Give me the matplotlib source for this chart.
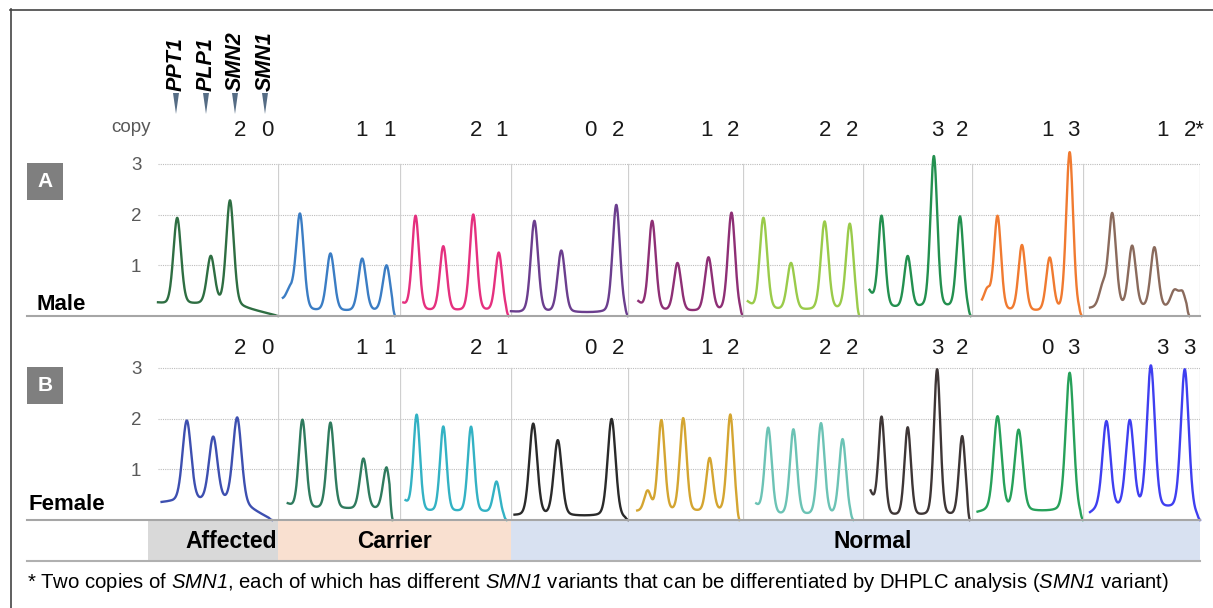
import numpy as np
import matplotlib
matplotlib.use("Agg")
import matplotlib.pyplot as plt
from matplotlib.lines import Line2D
from matplotlib.patches import Rectangle, Polygon

plt.rcParams['font.family'] = ['Liberation Sans', 'DejaVu Sans']
plt.rcParams['mathtext.fontset'] = 'custom'
plt.rcParams['mathtext.it'] = 'Liberation Sans:italic'
plt.rcParams['mathtext.rm'] = 'Liberation Sans:italic'

# ---- data (peak position in panel fraction, height in copies)
genes = ['PPT1', 'PLP1', 'SMN2', 'SMN1']
groups = ['Affected', 'Carrier', 'Normal']

male_copy = [('2', '0'), ('1', '1'), ('2', '1'), ('0', '2'), ('1', '2'),
             ('2', '2'), ('3', '2'), ('1', '3'), ('1', '2*')]
female_copy = [('2', '0'), ('1', '1'), ('2', '1'), ('0', '2'), ('1', '2'),
               ('2', '2'), ('3', '2'), ('0', '3'), ('3', '3')]

male_pos = [[0.16, 0.44, 0.60],
            [0.10, 0.18, 0.43, 0.69, 0.89],
            [0.14, 0.39, 0.66, 0.89],
            [0.20, 0.43, 0.90],
            [0.21, 0.43, 0.70, 0.90],
            [0.17, 0.40, 0.68, 0.89],
            [0.17, 0.41, 0.65, 0.89],
            [0.14, 0.23, 0.45, 0.70, 0.88],
            [0.17, 0.25, 0.42, 0.61, 0.78, 0.85]]
male_height = [[1.93, 1.16, 2.27],
               [0.45, 1.99, 1.22, 1.12, 0.99],
               [1.97, 1.36, 1.99, 1.24],
               [1.87, 1.28, 2.19],
               [1.87, 1.03, 1.14, 2.03],
               [1.93, 1.03, 1.85, 1.81],
               [1.97, 1.16, 3.14, 1.95],
               [0.45, 1.95, 1.38, 1.12, 3.22],
               [0.55, 1.99, 1.36, 1.34, 0.47, 0.45]]
male_base = [0.22, 0.08, 0.08, 0.06, 0.08, 0.10, 0.14, 0.07, 0.14]
male_lead = [0.25, 0.26, 0.22, 0.08, 0.26, 0.26, 0.47, 0.18, 0.14]
male_start = [0.0, 0.04, 0.03, 0.0, 0.09, 0.04, 0.06, 0.09, 0.06]
male_end = [1.0, 0.96, 0.98, 1.0, 1.0, 0.97, 0.99, 0.99, 0.91]

female_pos = [[0.24, 0.46, 0.66],
              [0.20, 0.43, 0.70, 0.89],
              [0.15, 0.39, 0.64, 0.87],
              [0.19, 0.40, 0.86],
              [0.17, 0.29, 0.48, 0.71, 0.89],
              [0.21, 0.42, 0.65, 0.83],
              [0.17, 0.41, 0.68, 0.91],
              [0.23, 0.42, 0.88],
              [0.20, 0.40, 0.58, 0.87]]
female_height = [[1.95, 1.62, 2.01],
                 [1.97, 1.91, 1.20, 1.03],
                 [2.07, 1.83, 1.83, 0.75],
                 [1.89, 1.56, 1.99],
                 [0.55, 1.95, 1.99, 1.20, 2.07],
                 [1.81, 1.77, 1.89, 1.58],
                 [2.03, 1.81, 2.96, 1.64],
                 [2.03, 1.76, 2.90],
                 [1.93, 1.93, 3.02, 2.96]]
female_base = [0.35, 0.20, 0.14, 0.07, 0.14, 0.07, 0.06, 0.16, 0.20]
female_lead = [0.34, 0.30, 0.34, 0.08, 0.16, 0.28, 0.53, 0.14, 0.12]
female_start = [0.03, 0.08, 0.05, 0.03, 0.08, 0.11, 0.07, 0.05, 0.06]
female_end = [0.95, 0.94, 0.96, 1.0, 0.97, 0.92, 0.98, 1.0, 1.0]

# ---- styles / layout
male_colors = ['#2e6e42', '#3b7dc4', '#e5307f', '#6b3e8e', '#8e2f75',
               '#9acb4a', '#23904f', '#f07a30', '#8a6a5c']
female_colors = ['#3d4fb0', '#2f7b5e', '#33b2c4', '#2a2a2a', '#d4a531',
                 '#6cc3b5', '#3e3636', '#27a15a', '#3f3ff0']
male_fwhm = [0.075] * 9
female_fwhm = [0.085, 0.07, 0.07, 0.08, 0.07, 0.07, 0.07, 0.085, 0.08]

W, H = 1213, 608
edges = [158, 278, 400, 511, 628, 743, 863, 972, 1083, 1200]
unit = 50.7
ytop = 3.3


def fx(px):
    return px / W


def fy(py):
    return 1 - py / H


def peak(x, c, fwhm):
    s = fwhm / 2.355
    g = fwhm / 2
    return 0.8 * np.exp(-0.5 * ((x - c) / s) ** 2) + 0.2 / (1 + ((x - c) / g) ** 2)


def trace(pos, hts, base, lead, x0, x1, fwhm):
    x = np.linspace(x0, x1, 500)
    b = base + (lead - base) * np.clip(1 - (x - x0) / 0.07, 0, 1)
    last = max(pos)
    b = b * np.clip((x1 - x) / (x1 - last), 0, 1)
    y = b.copy()
    for c, h in zip(pos, hts):
        y += (h - base) * peak(x, c, fwhm)
    y *= np.clip((x1 - x) / 0.025, 0, 1)
    return x, y


fig = plt.figure(figsize=(W / 100, H / 100), dpi=100)


def draw_row(y0, pos_l, ht_l, base_l, lead_l, st_l, en_l, colors, fwhms, copies, copy_y):
    for i in range(9):
        left, right = edges[i], edges[i + 1]
        ax = fig.add_axes([fx(left), fy(y0), (right - left) / W, ytop * unit / H])
        ax.set_xlim(0, 1)
        ax.set_ylim(0, ytop)
        ax.patch.set_alpha(0)
        for s in ax.spines.values():
            s.set_visible(False)
        ax.set_xticks([])
        if i == 0:
            ax.set_yticks([1, 2, 3])
            ax.tick_params(axis='y', length=0, pad=12, labelsize=13.5, labelcolor='#595959')
        else:
            ax.set_yticks([])
        for v in [1, 2, 3]:
            ax.axhline(v, color='#bdbdbd', lw=0.8, ls=(0, (1, 1)), zorder=1)
        if i > 0:
            ax.axvline(0, ymin=0, ymax=3 / ytop, color='#cfcfcf', lw=0.9, zorder=1)
        if i == 8:
            ax.axvline(1, ymin=0, ymax=3 / ytop, color='#cfcfcf', lw=0.9, zorder=1)
        x, y = trace(pos_l[i], ht_l[i], base_l[i], lead_l[i], st_l[i], en_l[i], fwhms[i])
        ax.plot(x, y, color=colors[i], lw=1.7, clip_on=False, zorder=3,
                solid_joinstyle='round')
        for c, lab in zip([0.68, 0.91], copies[i]):
            ax.annotate(lab, (c, copy_y), xytext=(-4.3, 0), textcoords='offset points',
                        ha='left', va='center', fontsize=16, color='#1a1a1a',
                        annotation_clip=False)


draw_row(316, male_pos, male_height, male_base, male_lead, male_start, male_end,
         male_colors, male_fwhm, male_copy, 3.65)
draw_row(520, female_pos, female_height, female_base, female_lead, female_start,
         female_end, female_colors, female_fwhm, female_copy, 3.39)

# group bar
group_edges = [148, 278, 511, 1200]
group_colors = ['#d9d9d9', '#f9e0d0', '#d8e1f1']
group_text_x = [277, 394, 873]
group_ha = ['right', 'center', 'center']
for g, c, tx, ha, a, b in zip(groups, group_colors, group_text_x, group_ha,
                              group_edges[:-1], group_edges[1:]):
    fig.add_artist(Rectangle((fx(a), fy(561)), (b - a) / W, 41 / H,
                             transform=fig.transFigure, color=c, lw=0, zorder=0))
    fig.text(fx(tx), fy(542), g, ha=ha, va='center', fontsize=16.5, fontweight='bold')

# horizontal rules
for py, col in [(316, '#a6a6a6'), (520, '#a6a6a6'), (561, '#b0b0b0')]:
    fig.add_artist(Line2D([fx(27), fx(1200)], [fy(py)] * 2, color=col, lw=1.5, zorder=2))

# frame
fig.add_artist(Line2D([fx(10), 1], [fy(9.5)] * 2, color='#444444', lw=1.2))
fig.add_artist(Line2D([fx(10.5)] * 2, [fy(9), 0], color='#444444', lw=1.2))

# panel letters and row labels
for lab, top in [('A', 163), ('B', 367)]:
    fig.add_artist(Rectangle((fx(27), fy(top + 37)), 36 / W, 37 / H,
                             transform=fig.transFigure, color='#7f7f7f', lw=0))
    fig.text(fx(45), fy(top + 18.5), lab, ha='center', va='center', color='white',
             fontsize=15, fontweight='bold')
fig.text(fx(36), fy(305), 'Male', ha='left', va='center', fontsize=16, fontweight='bold')
fig.text(fx(28), fy(505), 'Female', ha='left', va='center', fontsize=16, fontweight='bold')

fig.text(fx(131), fy(128), 'copy', ha='center', va='center', fontsize=13.5, color='#595959')

# gene markers
gene_x = [176, 206, 235, 265]
for g, gx in zip(genes, gene_x):
    fig.text(fx(gx), fy(91), g, rotation=90, ha='center', va='bottom', fontsize=15.5,
             fontweight='bold', fontstyle='italic')
    fig.add_artist(Polygon([(fx(gx - 3), fy(93)), (fx(gx + 3), fy(93)), (fx(gx), fy(114))],
                           closed=True, transform=fig.transFigure, color='#566d85', lw=0))

fig.text(fx(27), fy(582),
         '* Two copies of $\\mathrm{SMN1}$, each of which has different $\\mathrm{SMN1}$ '
         'variants that can be differentiated by DHPLC analysis ($\\mathrm{SMN1}$ variant)',
         ha='left', va='center', fontsize=14.6)

fig.savefig('out.png', dpi=100)
